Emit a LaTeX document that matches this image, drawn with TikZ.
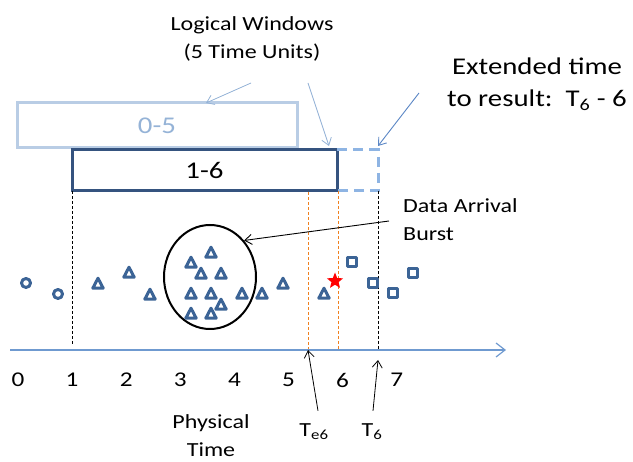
\documentclass[tikz,border=0pt]{standalone}
\usepackage{fontspec}
\setmainfont{Carlito}[FakeStretch=1.2]
\usetikzlibrary{arrows.meta,shapes.geometric,calc}
\definecolor{winblue}{HTML}{35537F}
\definecolor{winpale}{HTML}{B9CDE5}
\definecolor{paletext}{HTML}{95B3D7}
\definecolor{extblue}{HTML}{8EB4E3}
\definecolor{markblue}{HTML}{3C6496}
\definecolor{axisblue}{HTML}{6F9AD0}
\definecolor{callblue}{HTML}{5A86C5}
\definecolor{guideorange}{HTML}{F0801E}
\begin{document}
\begin{tikzpicture}[x=1pt,y=-1pt,>={Straight Barb[length=7pt,width=10pt]},
  lbl/.style={font=\fontsize{20}{28}\selectfont, inner sep=0pt},
  winbox/.style={line width=3pt, inner sep=0pt, outer sep=0pt, font=\fontsize{24}{28}\selectfont},
  dot/.style={draw=markblue, line width=3pt, line join=round},
  guide/.style={dash pattern=on 3pt off 2pt, line width=1pt}]
\useasboundingbox[fill=white] (0,0) rectangle (633,462);
\node[winbox, draw=winpale, text=paletext, minimum width=280pt, minimum height=45pt] (w05) at (157,125.5) {0-5};
\node[winbox, draw=winblue, fill=white, minimum width=265pt, minimum height=41pt] (w16) at (204.5,170.5) {1-6};
\coordinate (xc) at ($(w16.north east)+(41,0)$);
\draw[extblue, line width=3pt, dash pattern=on 10pt off 6pt] (w16.north east) -| ($(w16.south east)+(41,0)$) -- (w16.south east);
\coordinate (o) at (10,350);
\coordinate (e) at (506,350);
\coordinate (te) at (308,192);
\draw[guide] (w16.south west) -- ($(w16.south west |- o)+(0,-5)$);
\draw[guide, guideorange] (te) -- (te |- o);
\draw[guide, guideorange] ($(w16.south east)+(1,0)$) -- ($(w16.south east |- o)+(1,0)$);
\draw[guide] ($(w16.south east)+(41,0)$) -- ($(w16.south east |- o)+(41,0)$);
\draw[axisblue, line width=1.2pt, -{Straight Barb[length=9pt,width=14pt]}] (o) -- (e);
\foreach \i in {0,...,7}
  \node[lbl, font=\fontsize{21}{25}\selectfont] (n\i) at (18+54.1*\i,380) {\i};
\node[lbl, align=center] (lw) at (252,39) {Logical Windows\\(5 Time Units)};
\draw[->, paletext, line width=0.8pt] ($(lw)+(-1,44)$) -- ($(w05.north)+(49,0)$);
\draw[->, paletext, line width=0.8pt] ($(lw)+(56,44)$) -- ($(w16.north east)+(-8,-4)$);
\node[lbl, font=\fontsize{24}{32}\selectfont, align=center] (ext) at (537,84) {Extended time\\to result:\ \ T\textsubscript{6} - 6};
\draw[->, callblue, line width=0.9pt] ($(ext)+(-118,9)$) -- ($(xc)+(0,-4)$);
\node[ellipse, draw, line width=2pt, minimum width=92pt, minimum height=104pt, inner sep=0pt] (burst) at (210,277) {};
\node[lbl, align=left, anchor=west] (data) at (403,220) {Data Arrival\\Burst};
\draw[->, line width=0.9pt] ($(data.west)+(-14,1)$) -- (burst.47);
\foreach \x/\y in {26/283,58/294}
  \draw[dot] (\x,\y) circle (4.5pt);
\foreach \x/\y in {98/284,129/273,150/295,191/263,211/253,201/274,221/274,191/294,211/294,221/305,191/314,211/314,242/294,262/294,283/284,324/294}
  \draw[dot] (\x-5.2,\y+4.2) -- (\x,\y-5.8) -- (\x+5.2,\y+4.2) -- cycle;
\foreach \x/\y in {352/262,373/283,393/293,413/273}
  \draw[dot] (\x-4.5,\y-4.5) rectangle (\x+4.5,\y+4.5);
\node[star, star points=5, star point ratio=2.3, fill=red, inner sep=0pt, minimum size=17pt] (event) at (335,281) {};
\node[lbl] (te6) at (314,432) {T\textsubscript{e6}};
\node[lbl] (t6) at (372,432) {T\textsubscript{6}};
\draw[->, line width=0.8pt] ($(te6.north)+(4,-13)$) -- (te |- o);
\draw[->, line width=0.8pt] ($(t6.north)+(1,-13)$) -- ($(o -| xc)+(0,10)$);
\node[lbl, align=center] (phys) at (211,436) {Physical\\Time};
\end{tikzpicture}
\end{document}
